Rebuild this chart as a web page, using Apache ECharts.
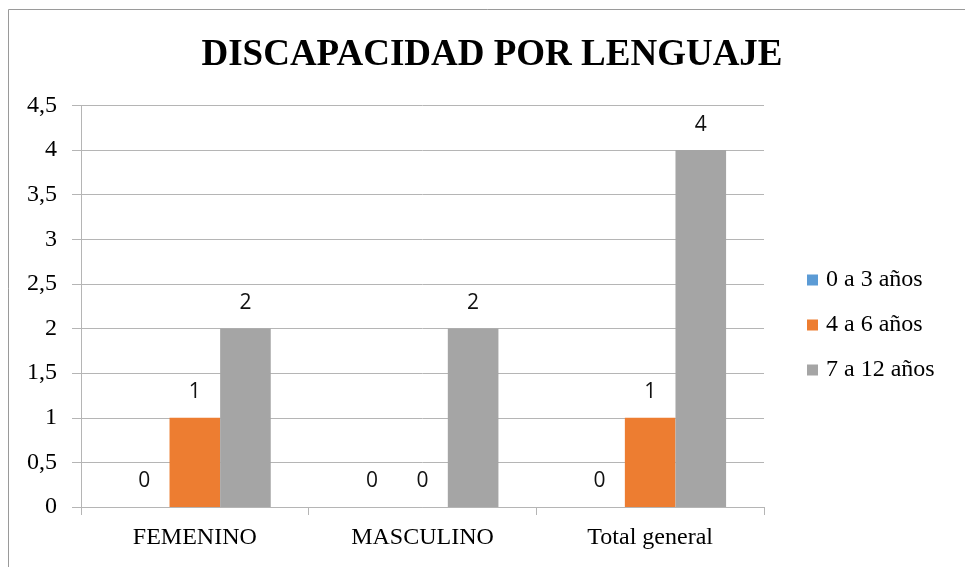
<!DOCTYPE html>
<html>
<head>
<meta charset="utf-8">
<script src="https://cdn.jsdelivr.net/npm/echarts@6/dist/echarts.min.js"></script>
<style>
  html, body { margin: 0; padding: 0; background: #fff; }
  #chart { width: 965px; height: 567px; }
</style>
</head>
<body>
<div id="chart"></div>
<script>
const categories = ['FEMENINO', 'MASCULINO', 'Total general'];
const seriesNames = ['0 a 3 años', '4 a 6 años', '7 a 12 años'];
const age0to3 = [0, 0, 0];
const age4to6 = [1, 0, 1];
const age7to12 = [2, 2, 4];
const colors = ['#5B9BD5', '#ED7D31', '#A5A5A5'];

const serif = '"Liberation Serif", "Times New Roman", serif';
const gridColor = '#b5b5b5';

function barSeries(name, data, color) {
  return {
    name: name,
    type: 'bar',
    data: data,
    barGap: '0%',
    barCategoryGap: '33.3%',
    itemStyle: { color: color },
    label: {
      show: true,
      position: 'top',
      distance: 15,
      fontFamily: '"Open Sans", sans-serif',
      fontSize: 21,
      color: '#111'
    }
  };
}

const myChart = echarts.init(document.getElementById('chart'));
const option = {
  animation: false,
  title: {
    text: 'DISCAPACIDAD POR LENGUAJE',
    left: 487,
    textAlign: 'center',
    top: 32,
    textStyle: { fontFamily: serif, fontWeight: 'bold', fontSize: 37, color: '#000' }
  },
  legend: {
    orient: 'vertical',
    left: 802,
    top: 263,
    itemWidth: 11,
    itemHeight: 11,
    itemGap: 21,
    icon: 'rect',
    data: seriesNames,
    textStyle: { fontFamily: serif, fontSize: 24, color: '#000', padding: [0, 0, 0, 3] }
  },
  grid: { left: 81, right: 201, top: 105.5, bottom: 60 },
  xAxis: {
    type: 'category',
    data: categories,
    axisLine: { lineStyle: { color: gridColor } },
    axisTick: { show: true, length: 8, lineStyle: { color: gridColor } },
    axisLabel: { margin: 19, fontFamily: serif, fontSize: 24, color: '#000' }
  },
  yAxis: {
    type: 'value',
    min: 0,
    max: 4.5,
    interval: 0.5,
    axisLine: { show: true, lineStyle: { color: gridColor } },
    axisTick: { show: true, length: 9, lineStyle: { color: gridColor } },
    splitLine: { lineStyle: { color: gridColor } },
    axisLabel: {
      margin: 24,
      fontFamily: serif,
      fontSize: 24,
      color: '#000',
      formatter: v => String(v).replace('.', ',')
    }
  },
  graphic: [{
    type: 'rect',
    shape: { x: 8.5, y: 9.5, width: 970, height: 570 },
    style: { fill: null, stroke: '#9a9a9a', lineWidth: 1 },
    silent: true
  }],
  series: [
    barSeries(seriesNames[0], age0to3, colors[0]),
    barSeries(seriesNames[1], age4to6, colors[1]),
    barSeries(seriesNames[2], age7to12, colors[2])
  ]
};
myChart.setOption(option);
</script>
</body>
</html>
